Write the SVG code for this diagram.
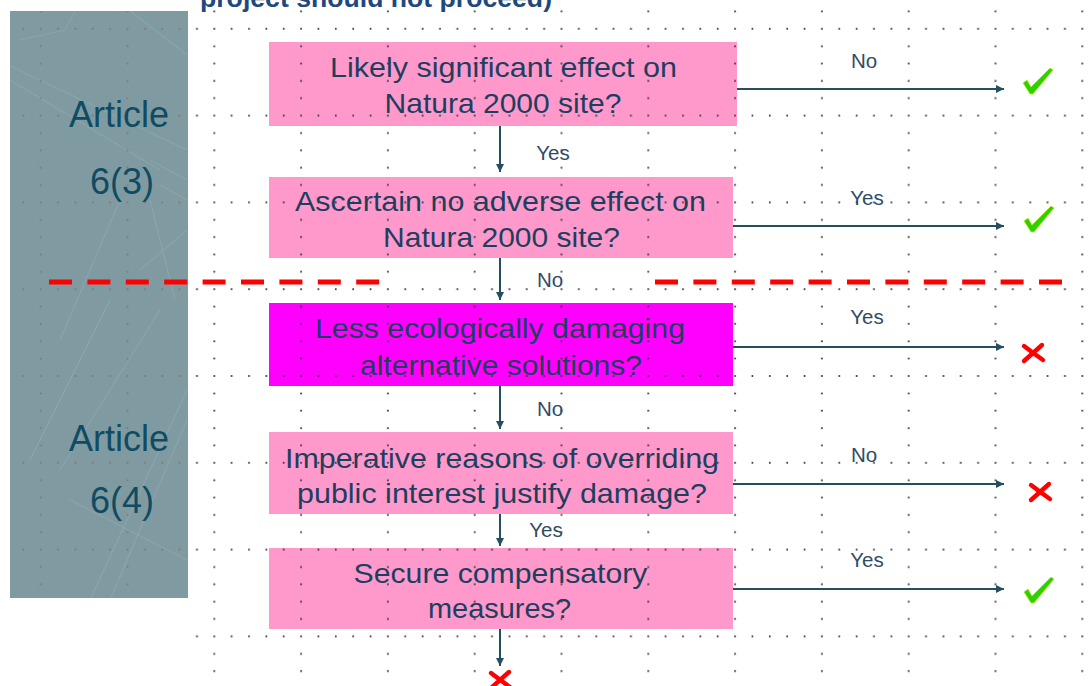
<svg xmlns="http://www.w3.org/2000/svg" width="1090" height="686" viewBox="0 0 1090 686">
<style>
.box{fill:#ff99cc}
.boxm{fill:#ff00ff}
.bt{font-family:"Liberation Sans",Arial,sans-serif;font-size:28.5px;fill:#1d3f5e;text-anchor:middle}
.lbl{font-family:"Liberation Sans",Arial,sans-serif;font-size:20.5px;fill:#2f4c66;text-anchor:middle}
.art{font-family:"Liberation Sans",Arial,sans-serif;font-size:36px;fill:#0f4c63;text-anchor:middle}
.arr{stroke:#24505e;stroke-width:2;fill:none;marker-end:url(#ah)}
.dash{stroke:#ff0000;stroke-width:5;stroke-dasharray:23 15.4;fill:none}
.tex{stroke:#ffffff;stroke-opacity:0.09;stroke-width:1.2;fill:none}
</style>
<defs>
<marker id="ah" viewBox="0 0 10 10" refX="10" refY="5" markerWidth="9" markerHeight="8" markerUnits="userSpaceOnUse" orient="auto">
<path d="M0,0 L10,5 L0,10 z" fill="#24505e"/>
</marker>
<pattern id="grid" x="213.3" y="27.8" width="86.8" height="86.8" patternUnits="userSpaceOnUse">
<g fill="#333333">
<circle cx="1" cy="1" r="1"/><circle cx="18.36" cy="1" r="1"/><circle cx="35.72" cy="1" r="1"/><circle cx="53.08" cy="1" r="1"/><circle cx="70.44" cy="1" r="1"/>
<circle cx="1" cy="18.36" r="1"/><circle cx="1" cy="35.72" r="1"/><circle cx="1" cy="53.08" r="1"/><circle cx="1" cy="70.44" r="1"/>
</g>
</pattern>
<pattern id="gridP" x="213.3" y="27.8" width="86.8" height="86.8" patternUnits="userSpaceOnUse">
<g fill="#8e6a62">
<circle cx="1" cy="1" r="0.95"/><circle cx="18.36" cy="1" r="0.95"/><circle cx="35.72" cy="1" r="0.95"/><circle cx="53.08" cy="1" r="0.95"/><circle cx="70.44" cy="1" r="0.95"/>
<circle cx="1" cy="18.36" r="0.95"/><circle cx="1" cy="35.72" r="0.95"/><circle cx="1" cy="53.08" r="0.95"/><circle cx="1" cy="70.44" r="0.95"/>
</g>
</pattern>
<g id="check">
<path d="M-15,2 L-11,-1 L-7,6 L12,-13 L15,-11 L-5,13 L-8,13 Z" fill="#2fd000" stroke="#b8ee20" stroke-width="0.8" stroke-linejoin="round"/>
</g>
<g id="cross">
<path d="M-9,-7 Q0,0 10,7 M9,-8 Q0,0 -9,8" stroke="#ff0000" stroke-width="4.4" stroke-linecap="round" fill="none"/>
</g>
</defs>
<rect width="1090" height="686" fill="#ffffff"/>

<text x="376" y="7" font-family="'Liberation Sans',Arial,sans-serif" font-size="26" font-weight="bold" fill="#1f497d" text-anchor="middle" textLength="352" lengthAdjust="spacingAndGlyphs">project should not proceed)</text>

<g id="panel">
<rect x="10" y="11" width="178" height="587" fill="#7f9ba1"/>
<path class="tex" d="M10,66 L187,150 M10,80 L160,170 M20,40 L65,30 L75,11 M130,11 L187,55 M150,160 L187,180 M160,185 L187,200 M150,200 L175,300 M187,230 L140,270 M60,340 L120,200 M30,460 L110,300 M60,470 L160,310 M70,500 L187,560 M90,600 L187,390 M110,600 L187,420"/>
<rect x="10" y="11" width="178" height="587" fill="url(#gridP)"/>
<text class="art" x="119" y="127">Article</text>
<text class="art" x="122" y="194">6(3)</text>
<text class="art" x="119" y="451">Article</text>
<text class="art" x="122" y="513">6(4)</text>
</g>

<g id="n1"><rect class="box" x="269" y="42" width="468" height="84"/></g>
<g id="n2"><rect class="box" x="269" y="177" width="464" height="81"/></g>
<g id="n3"><rect class="boxm" x="269" y="303" width="464" height="83"/></g>
<g id="n4"><rect class="box" x="269" y="432" width="464" height="82"/></g>
<g id="n5"><rect class="box" x="269" y="548" width="464" height="81"/></g>

<rect x="188" y="0" width="902" height="686" fill="url(#grid)"/>

<g id="n1t">
<text class="bt" x="503.5" y="77" textLength="347" lengthAdjust="spacingAndGlyphs">Likely significant effect on</text>
<text class="bt" x="503" y="113" textLength="237" lengthAdjust="spacingAndGlyphs">Natura 2000 site?</text>
</g>
<g id="n2t">
<text class="bt" x="500.5" y="211" textLength="411" lengthAdjust="spacingAndGlyphs">Ascertain no adverse effect on</text>
<text class="bt" x="501.5" y="247" textLength="237" lengthAdjust="spacingAndGlyphs">Natura 2000 site?</text>
</g>
<g id="n3t">
<text class="bt" x="500" y="338" textLength="370" lengthAdjust="spacingAndGlyphs">Less ecologically damaging</text>
<text class="bt" x="501" y="375" textLength="282" lengthAdjust="spacingAndGlyphs">alternative solutions?</text>
</g>
<g id="n4t">
<text class="bt" x="502" y="468" textLength="434" lengthAdjust="spacingAndGlyphs">Imperative reasons of overriding</text>
<text class="bt" x="502" y="503" textLength="410" lengthAdjust="spacingAndGlyphs">public interest justify damage?</text>
</g>
<g id="n5t">
<text class="bt" x="500.5" y="583" textLength="294" lengthAdjust="spacingAndGlyphs">Secure compensatory</text>
<text class="bt" x="499.5" y="618" textLength="143" lengthAdjust="spacingAndGlyphs">measures?</text>
</g>

<g id="divider">
<line class="dash" x1="49" y1="282" x2="380" y2="282"/>
<line class="dash" x1="655" y1="282" x2="1062" y2="282"/>
</g>

<g id="connectors">
<line class="arr" x1="500" y1="126" x2="500" y2="172"/>
<line class="arr" x1="500" y1="258" x2="500" y2="300"/>
<line class="arr" x1="500" y1="386" x2="500" y2="429"/>
<line class="arr" x1="500" y1="514" x2="500" y2="546"/>
<line class="arr" x1="500" y1="629" x2="500" y2="666"/>
<line class="arr" x1="737" y1="89" x2="1004" y2="89"/>
<line class="arr" x1="733" y1="226" x2="1004" y2="226"/>
<line class="arr" x1="733" y1="347" x2="1004" y2="347"/>
<line class="arr" x1="733" y1="484" x2="1004" y2="484"/>
<line class="arr" x1="733" y1="589" x2="1004" y2="589"/>
<text class="lbl" x="864" y="68">No</text>
<text class="lbl" x="553" y="160">Yes</text>
<text class="lbl" x="867" y="205">Yes</text>
<text class="lbl" x="550" y="287">No</text>
<text class="lbl" x="867" y="324">Yes</text>
<text class="lbl" x="550" y="416">No</text>
<text class="lbl" x="864" y="462">No</text>
<text class="lbl" x="546" y="537">Yes</text>
<text class="lbl" x="867" y="567">Yes</text>
</g>

<g id="outcomes">
<use href="#check" x="1038" y="81"/>
<use href="#check" x="1039" y="219"/>
<use href="#check" x="1039" y="590"/>
<use href="#cross" x="1033" y="353"/>
<use href="#cross" x="1040" y="492"/>
<use href="#cross" x="500" y="680"/>
</g>
</svg>
